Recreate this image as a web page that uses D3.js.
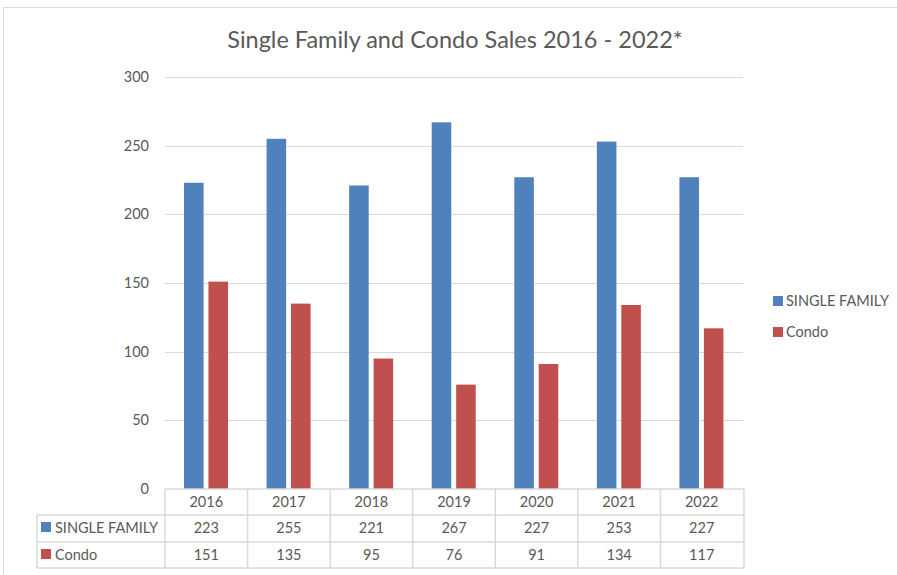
<!DOCTYPE html>
<meta charset="utf-8">
<style>
body { margin: 0; background: #fff; }
text { font-family: Lato, "Open Sans", sans-serif; fill: #595959; }
.grid line { stroke: #d9d9d9; }
.tbl line { stroke: #d9d9d9; stroke-width: 1.5px; }
</style>
<svg width="897" height="575"></svg>
<script src="https://d3js.org/d3.v7.min.js"></script>
<script>

var years = ["2016", "2017", "2018", "2019", "2020", "2021", "2022"];
var singleFamily = [223, 255, 221, 267, 227, 253, 227];
var condo = [151, 135, 95, 76, 91, 134, 117];
var seriesNames = ["SINGLE FAMILY", "Condo"];
var colors = ["#4f81bd", "#c0504d"];
var yTicks = [0, 50, 100, 150, 200, 250, 300];

var series = [singleFamily, condo];

var svg = d3.select("svg");

// chart border
svg.append("rect")
    .attr("x", 3.5).attr("y", 7.5)
    .attr("width", 900).attr("height", 600)
    .attr("fill", "none").attr("stroke", "#d9d9d9");

var x = d3.scaleBand().domain(years).range([165, 743]);
var x1 = d3.scaleBand().domain(d3.range(series.length)).range([19, 63]).paddingInner(0.2);
var y = d3.scaleLinear().domain([0, 300]).range([489, 77]);

svg.append("text")
    .attr("x", 455).attr("y", 48)
    .attr("text-anchor", "middle")
    .style("font-size", "23.5px")
    .text("Single Family and Condo Sales 2016 - 2022*");

// gridlines
var grid = svg.append("g").attr("class", "grid");
grid.selectAll("line")
  .data(yTicks.filter(function(d) { return d > 0; }))
  .enter().append("line")
    .attr("x1", 165).attr("x2", 743)
    .attr("y1", function(d) { return Math.round(y(d)) + 0.5; })
    .attr("y2", function(d) { return Math.round(y(d)) + 0.5; });

svg.append("g").selectAll("text")
  .data(yTicks)
  .enter().append("text")
    .attr("x", 149)
    .attr("y", function(d) { return y(d) + 5; })
    .attr("text-anchor", "end")
    .style("font-size", "14.5px")
    .text(function(d) { return d; });

// bars
series.forEach(function(vals, s) {
  svg.append("g").selectAll("rect")
    .data(vals)
    .enter().append("rect")
      .attr("x", function(d, i) { return x(years[i]) + x1(s); })
      .attr("width", x1.bandwidth())
      .attr("y", function(d) { return y(d); })
      .attr("height", function(d) { return y(0) - y(d); })
      .attr("fill", colors[s]);
});

// data table
var rowY = [489, 515, 542, 568];
var tbl = svg.append("g").attr("class", "tbl");
tbl.append("line").attr("x1", 165).attr("x2", 744).attr("y1", rowY[0]).attr("y2", rowY[0]);
for (var r = 1; r < rowY.length; r++) {
  tbl.append("line").attr("x1", 37).attr("x2", 744).attr("y1", rowY[r]).attr("y2", rowY[r]);
}
tbl.append("line").attr("x1", 37).attr("x2", 37).attr("y1", rowY[1]).attr("y2", rowY[3]);
years.forEach(function(yr) {
  tbl.append("line").attr("x1", x(yr)).attr("x2", x(yr)).attr("y1", rowY[0]).attr("y2", rowY[3]);
});
tbl.append("line").attr("x1", 744).attr("x2", 744).attr("y1", rowY[0]).attr("y2", rowY[3]);

svg.append("g").selectAll("text")
  .data(years)
  .enter().append("text")
    .attr("x", function(d) { return x(d) + x.bandwidth() / 2; })
    .attr("y", 507)
    .attr("text-anchor", "middle")
    .style("font-size", "14.5px")
    .text(function(d) { return d; });

series.forEach(function(vals, s) {
  var ty = 533 + s * 27;
  svg.append("rect")
    .attr("x", 41).attr("y", ty - 11)
    .attr("width", 10).attr("height", 10)
    .attr("fill", colors[s]);
  svg.append("text")
    .attr("x", 55).attr("y", ty)
    .style("font-size", "14.5px")
    .text(seriesNames[s]);
  svg.append("g").selectAll("text")
    .data(vals)
    .enter().append("text")
      .attr("x", function(d, i) { return x(years[i]) + x.bandwidth() / 2; })
      .attr("y", ty)
      .attr("text-anchor", "middle")
      .style("font-size", "14.5px")
      .text(function(d) { return d; });
});

// legend
seriesNames.forEach(function(name, s) {
  var ly = 306 + s * 31;
  svg.append("rect")
    .attr("x", 773).attr("y", ly - 10)
    .attr("width", 10).attr("height", 10)
    .attr("fill", colors[s]);
  svg.append("text")
    .attr("x", 786).attr("y", ly)
    .style("font-size", "14.5px")
    .text(name);
});

</script>
